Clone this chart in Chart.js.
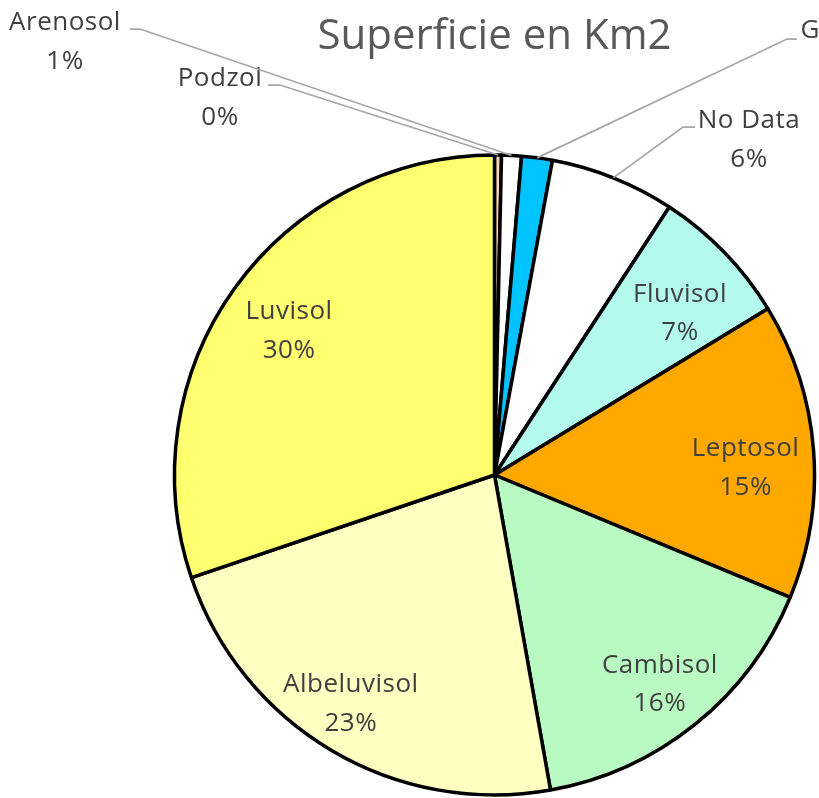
<!DOCTYPE html>
<html>
<head>
<meta charset="utf-8">
<script src="https://cdn.jsdelivr.net/npm/chart.js@4/dist/chart.umd.min.js"></script>
<style>
  html, body { margin: 0; padding: 0; background: #fff; overflow: hidden; }
  #wrap { position: relative; width: 819px; height: 798px; }
</style>
</head>
<body>
<div id="wrap"><canvas id="c" width="819" height="798"></canvas></div>
<script>
// ---- data (estimated shares, %) ----
const categories = ['Podzol', 'Arenosol', 'Gleysol', 'No Data', 'Fluvisol', 'Leptosol', 'Cambisol', 'Albeluvisol', 'Luvisol'];
const shares     = [0.35, 1.0, 1.55, 6.3, 7.1, 14.95, 15.95, 22.6, 30.2];
const sliceColors = ['#FCD5B5', '#FFFFFF', '#00C3FF', '#FFFFFF', '#B3F9EE', '#FFA800', '#B8FAC1', '#FFFFC1', '#FFFF6F'];
const chartTitle = 'Superficie en Km2';

// outside label placements (text centre x, first baseline y, elbow, end of horizontal leader)
const outsidePlacement = {
  'Arenosol': { cx: 65,  by: 30,  ex: 140, ey: 29, hx: 130 },
  'Podzol':   { cx: 220, by: 86,  ex: 280, ey: 85, hx: 268 },
  'Gleysol':  { cx: 846, by: 38,  ex: 787, ey: 39, hx: 797 },
  'No Data':  { cx: 749, by: 128, ex: 683, ey: 127, hx: 695 }
};
// small nudges of inside labels (Excel best-fit placement)
const insideNudge = {
  'Fluvisol':    { dx: 4,   dy: 13 },
  'Leptosol':    { dx: -1,  dy: 11 },
  'Cambisol':    { dx: 7,   dy: 11 },
  'Albeluvisol': { dx: -15, dy: 10 },
  'Luvisol':     { dx: 0,   dy: 2 }
};

const LABEL_FONT = '26px "Open Sans"';
const LINE_GAP = 38.5;

const sliceLabels = {
  id: 'sliceLabels',
  afterDatasetsDraw(chart) {
    const ctx = chart.ctx;
    const meta = chart.getDatasetMeta(0);
    const vals = chart.data.datasets[0].data;
    const total = vals.reduce((a, b) => a + b, 0);
    ctx.save();
    ctx.font = LABEL_FONT;
    if ('letterSpacing' in ctx) ctx.letterSpacing = '0.5px';
    ctx.fillStyle = '#404040';
    ctx.textAlign = 'center';
    ctx.textBaseline = 'alphabetic';
    meta.data.forEach((arc, i) => {
      const p = arc.getProps(['x', 'y', 'startAngle', 'endAngle', 'outerRadius'], true);
      const mid = (p.startAngle + p.endAngle) / 2;
      const name = chart.data.labels[i];
      const pct = Math.round(vals[i] / total * 100) + '%';
      const o = outsidePlacement[name];
      if (o) {
        const sx = p.x + Math.cos(mid) * p.outerRadius;
        const sy = p.y + Math.sin(mid) * p.outerRadius;
        ctx.save();
        ctx.strokeStyle = '#A6A6A6';
        ctx.lineWidth = 1.75;
        ctx.beginPath();
        ctx.moveTo(sx, sy);
        ctx.lineTo(o.ex, o.ey);
        ctx.lineTo(o.hx, o.ey);
        ctx.stroke();
        ctx.restore();
        ctx.fillText(name, o.cx, o.by);
        ctx.fillText(pct, o.cx, o.by + LINE_GAP);
      } else {
        const n = insideNudge[name] || { dx: 0, dy: 0 };
        const r = p.outerRadius * 0.79;
        const cx = p.x + Math.cos(mid) * r + n.dx;
        const cy = p.y + Math.sin(mid) * r + n.dy;
        const b1 = cy - LINE_GAP / 2 + 9;
        ctx.fillText(name, cx, b1);
        ctx.fillText(pct, cx, b1 + LINE_GAP);
      }
    });
    ctx.restore();
  }
};

new Chart(document.getElementById('c'), {
  type: 'pie',
  data: {
    labels: categories,
    datasets: [{
      data: shares,
      backgroundColor: sliceColors,
      borderColor: '#000000',
      borderWidth: 3.5
    }]
  },
  options: {
    responsive: false,
    animation: false,
    radius: 320,
    layout: { padding: { left: 170, right: 0, top: 0, bottom: 3 } },
    plugins: {
      legend: { display: false },
      tooltip: { enabled: false },
      title: {
        display: true,
        text: chartTitle,
        color: '#595959',
        font: { family: '"Open Sans"', size: 42, weight: 'normal', lineHeight: 1.2 },
        padding: { top: 11.5, bottom: 93.1 }
      }
    }
  },
  plugins: [sliceLabels]
});
</script>
</body>
</html>
